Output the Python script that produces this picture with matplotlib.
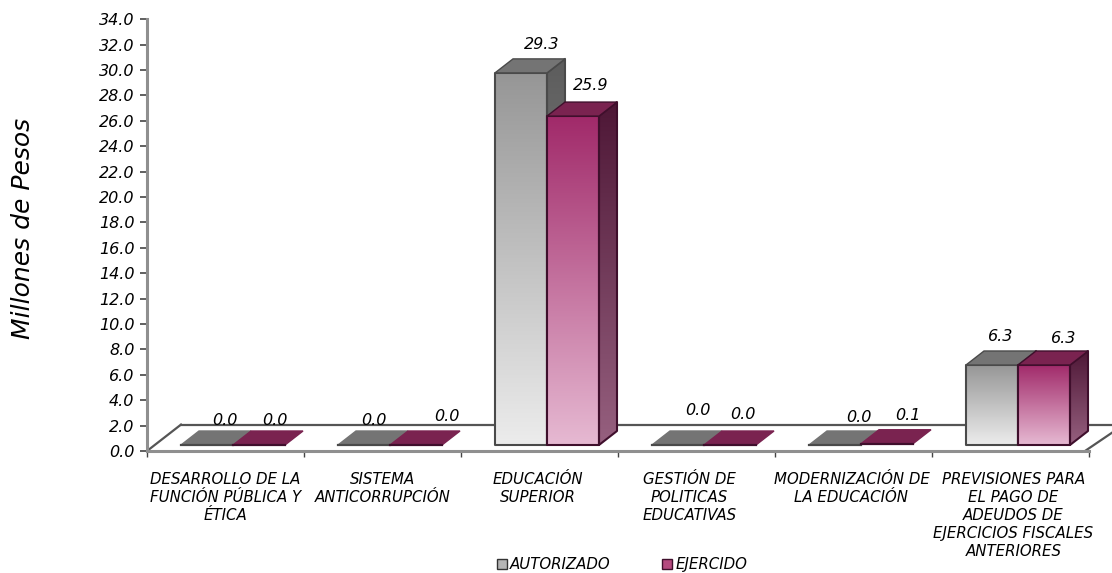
import numpy as np
import matplotlib
matplotlib.use('Agg')
import matplotlib.pyplot as plt
from matplotlib.colors import LinearSegmentedColormap
from matplotlib.patches import Polygon, Patch
from matplotlib.transforms import ScaledTranslation

categorias = ['DESARROLLO DE LA\nFUNCIÓN PÚBLICA Y\nÉTICA',
              'SISTEMA\nANTICORRUPCIÓN',
              'EDUCACIÓN\nSUPERIOR',
              'GESTIÓN DE\nPOLITICAS\nEDUCATIVAS',
              'MODERNIZACIÓN DE\nLA EDUCACIÓN',
              'PREVISIONES PARA\nEL PAGO DE\nADEUDOS DE\nEJERCICIOS FISCALES\nANTERIORES']
autorizado = [0.0, 0.0, 29.3, 0.0, 0.0, 6.3]
ejercido = [0.0, 0.0, 25.9, 0.0, 0.1, 6.3]
yticks = np.arange(0, 36, 2)

# label nudges in pixels, from the top back corner of each bar
off_aut = [(0, 3), (-8, 3), (3, 7), (2, 13), (6, 6), (-9, 7)]
off_eje = [(-2, 3), (13, 7), (0, 9), (-5, 9), (3, 7), (2, 5)]
# sideways nudge of the category labels, pixels
off_cat = [0, 0, -2, -7, -2, 3]

W, H = 1112, 573
PX = 1 / 157.0
PY = 1 / 12.7
BAR_W = 52 * PX
DX, DY = 18 * PX, 14 * PY      # bar depth
BASE = 6 * PY
SHIFT = 7.5 * PX
FLOOR_DX, FLOOR_DY = 34 * PX, 2.08

plt.rcParams['font.family'] = ['DejaVu Sans']
plt.rcParams['font.style'] = 'italic'

fig = plt.figure(figsize=(W / 100, H / 100), dpi=100)
ax = fig.add_axes([147 / W, 1 - 451 / H, 942 / W, 431.8 / H])
ax.set_xlim(0, 6)
ax.set_ylim(0, 34)
ax.set_autoscale_on(False)


def gradient(pts, top, bottom, z, edge):
    pts = np.array(pts)
    cmap = LinearSegmentedColormap.from_list('g', [top, bottom])
    box = [pts[:, 0].min(), pts[:, 0].max(), pts[:, 1].min(), pts[:, 1].max()]
    im = ax.imshow(np.linspace(0, 1, 128).reshape(-1, 1), cmap=cmap, extent=box,
                   aspect='auto', origin='upper', zorder=z)
    poly = Polygon(pts, closed=True, fc='none', ec=edge, lw=1.5, zorder=z + 0.1,
                   joinstyle='round', clip_on=False)
    ax.add_patch(poly)
    im.set_clip_path(poly)


def bar3d(x, v, front, side, top_col, edge, z):
    b = BASE
    t = BASE + v
    flat = v <= 0.5
    if not flat:
        gradient([(x, b), (x + BAR_W, b), (x + BAR_W, t), (x, t)], front[0], front[1], z, edge)
        gradient([(x + BAR_W, b), (x + BAR_W + DX, b + DY), (x + BAR_W + DX, t + DY), (x + BAR_W, t)],
                 side[0], side[1], z, edge)
    ax.add_patch(Polygon([(x, t), (x + BAR_W, t), (x + BAR_W + DX, t + DY), (x + DX, t + DY)],
                         closed=True, fc=top_col, ec=top_col if flat else edge, lw=1.0,
                         zorder=z + 0.2, clip_on=False))
    if flat:
        ax.plot([x, x + BAR_W], [t, t], color=edge, lw=1.6, zorder=z + 0.3, clip_on=False)


# floor
ax.add_patch(Polygon([(0, 0), (FLOOR_DX, FLOOR_DY), (6.2, FLOOR_DY), (6 - 4 * PX, 0)], closed=True,
                     fc='white', ec='none', zorder=1, clip_on=False))
ax.plot([FLOOR_DX, 6.2], [FLOOR_DY, FLOOR_DY], color='#555555', lw=1.6, zorder=2, clip_on=False)
ax.plot([0, FLOOR_DX], [0, FLOOR_DY], color='#555555', lw=1.6, zorder=2, clip_on=False)
ax.plot([6 - 4 * PX, 6 + 27 * PX], [0, 21 * PY], color='#555555', lw=1.6, zorder=2, clip_on=False)

for i, (a, e) in enumerate(zip(autorizado, ejercido)):
    x0 = i + 0.5 + SHIFT - BAR_W
    x1 = i + 0.5 + SHIFT
    bar3d(x0, a, ('#969696', '#ececec'), ('#5c5c5c', '#9c9c9c'), '#747474', '#4a4a4a', 3)
    bar3d(x1, e, ('#a12a6a', '#e6b9d2'), ('#4e1736', '#96607f'), '#7a2350', '#3f0f2c', 4)
    ax.annotate(f'{a:.1f}', (x0 + BAR_W / 2 + DX, BASE + a + DY), xytext=off_aut[i],
                textcoords='offset pixels', ha='center', va='bottom', fontsize=11.5,
                zorder=6, annotation_clip=False)
    ax.annotate(f'{e:.1f}', (x1 + BAR_W / 2 + DX, BASE + e + DY), xytext=off_eje[i],
                textcoords='offset pixels', ha='center', va='bottom', fontsize=11.5,
                zorder=6, annotation_clip=False)

for s in ['top', 'right']:
    ax.spines[s].set_visible(False)
for s in ['left', 'bottom']:
    ax.spines[s].set_color('#8f8f8f')
    ax.spines[s].set_linewidth(2.2)
    ax.spines[s].set_zorder(2.5)

ax.set_yticks(yticks)
ax.set_yticklabels([f'{t:.1f}' for t in yticks], fontsize=11.5)
ax.tick_params(axis='y', length=5, width=1.2, color='#444444', pad=4)

ax.set_xticks(np.arange(6) + 0.5)
ax.set_xticklabels(categorias, fontsize=10.8, linespacing=1.26)
ax.tick_params(axis='x', which='major', length=0, pad=15)
ax.set_xticks(np.arange(7), minor=True)
ax.tick_params(axis='x', which='minor', length=4, width=1.0, color='#444444')
for lab, d in zip(ax.get_xticklabels(), off_cat):
    lab.set_transform(lab.get_transform() + ScaledTranslation(d / 100, 0, fig.dpi_scale_trans))

fig.text(23 / W, 1 - 228 / H, 'Millones de Pesos', rotation=90, ha='center', va='center', fontsize=18)

handles = [Patch(fc='#b5b5b5', ec='#333333', label='AUTORIZADO'),
           Patch(fc='#b5497f', ec='#3f0f2c', label='EJERCIDO')]
fig.legend(handles=handles, loc='center', bbox_to_anchor=(622 / W, 1 - 564.5 / H), ncol=2, frameon=False,
           fontsize=10.8, handlelength=0.7, handleheight=0.7, handletextpad=0.2,
           columnspacing=3.4, borderpad=0)

fig.savefig('out.png', dpi=100)
